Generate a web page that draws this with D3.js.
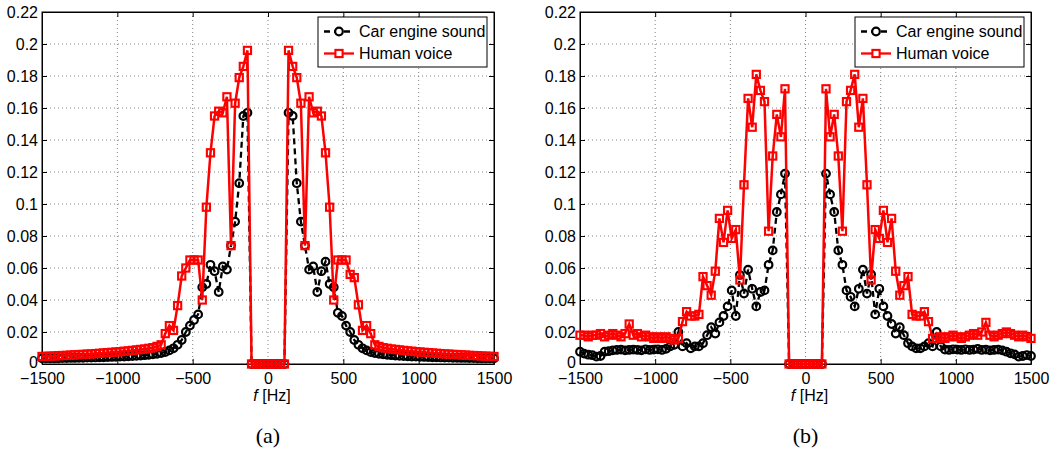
<!DOCTYPE html>
<html><head><meta charset="utf-8">
<script src="https://cdn.jsdelivr.net/npm/d3@7"></script>
<style>body{margin:0;background:#fff}svg{display:block}</style>
</head><body>
<svg id="c" width="1049" height="449"></svg>
<script>
// ---------- data ----------
const fStep = 1500 / 55;                  // frequency bin spacing (Hz)
const binIndex = d3.range(-55, 56);       // bins -55 .. 55
const xTicks = [-1500, -1000, -500, 0, 500, 1000, 1500];
const xTickLabels = ["\u22121500", "\u22121000", "\u2212500", "0", "500", "1000", "1500"];
const yTicks = [0, 0.02, 0.04, 0.06, 0.08, 0.1, 0.12, 0.14, 0.16, 0.18, 0.2, 0.22];
const yTickLabels = ["0", "0.02", "0.04", "0.06", "0.08", "0.1", "0.12", "0.14", "0.16", "0.18", "0.2", "0.22"];
const seriesNames = ["Car engine sound", "Human voice"];
const panelLabels = ["(a)", "(b)"];

// panel (a)
const carA = [
 0.0035,0.0035,0.0035,0.0036,0.0036,0.0037,0.0037,0.0038,0.0038,0.0039,0.0039,
 0.0040,0.0040,0.0041,0.0042,0.0042,0.0043,0.0044,0.0045,0.0046,0.0047,
 0.0048,0.0050,0.0051,0.0053,0.0055,0.0057,0.0060,0.0064,0.0068,0.0075,
 0.0085,0.0098,0.012,0.015,0.020,0.024,0.0275,0.031,0.048,0.050,
 0.062,0.058,0.045,0.061,0.059,0.074,0.089,0.113,0.155,0.157,
 0,0,0,0,
 0,
 0,0,0,0,
 0.157,0.155,0.113,0.089,0.074,0.059,0.061,0.045,0.058,0.064,
 0.050,0.048,0.032,0.030,0.024,0.020,0.015,0.012,0.0098,0.0085,
 0.0075,0.0068,0.0064,0.0060,0.0057,0.0055,0.0053,0.0051,0.0050,0.0048,
 0.0047,0.0046,0.0045,0.0044,0.0043,0.0042,0.0042,0.0041,0.0040,0.0040,
 0.0039,0.0039,0.0038,0.0038,0.0037,0.0037,0.0036,0.0036,0.0035,0.0035,
 0.0035];
const voiceA = [
 0.0047,0.0048,0.0049,0.0050,0.0052,0.0053,0.0054,0.0056,0.0057,0.0059,0.0060,
 0.0062,0.0063,0.0065,0.0067,0.0069,0.0071,0.0073,0.0075,0.0077,0.0080,
 0.0082,0.0085,0.0088,0.0091,0.0094,0.0098,0.0102,0.011,0.012,0.019,
 0.024,0.021,0.0365,0.055,0.060,0.065,0.065,0.065,0.040,0.098,
 0.132,0.155,0.158,0.157,0.167,0.074,0.163,0.179,0.186,0.196,
 0,0,0,0,
 0,
 0,0,0,0,
 0.196,0.186,0.179,0.163,0.074,0.167,0.157,0.158,0.155,0.132,
 0.098,0.040,0.065,0.065,0.065,0.056,0.054,0.037,0.021,0.024,
 0.019,0.012,0.011,0.0102,0.0098,0.0094,0.0091,0.0088,0.0085,0.0082,
 0.0080,0.0077,0.0075,0.0073,0.0071,0.0069,0.0067,0.0065,0.0063,0.0062,
 0.0060,0.0059,0.0057,0.0056,0.0054,0.0053,0.0052,0.0050,0.0049,0.0048,
 0.0047];

// panel (b)
const carB = [
 0.0077,0.0065,0.0058,0.0055,0.0046,0.005,0.0077,0.008,0.0085,0.0088,
 0.009,0.0085,0.0088,0.009,0.0088,0.0085,0.0092,0.0088,0.009,0.0092,
 0.0088,0.0095,0.011,0.012,0.020,
 0.011,0.013,0.0098,0.011,0.011,0.013,0.018,0.023,0.019,0.026,
 0.030,0.036,0.046,0.030,0.0556,0.044,0.059,0.047,0.036,0.045,
 0.046,0.062,0.071,0.095,0.106,0.119,0,0,0,0,
 0,
 0,0,0,0,
 0.119,0.106,0.095,0.071,0.062,0.046,0.042,0.036,0.047,0.059,
 0.044,0.056,0.031,0.047,0.036,0.030,0.025,0.019,0.023,0.018,
 0.013,0.011,0.0098,0.0098,0.011,0.013,0.011,0.020,0.011,0.009,
 0.0088,0.0092,0.009,0.0088,0.0092,0.0088,0.009,0.0095,0.0088,0.009,
 0.0085,0.0088,0.009,0.0085,0.0077,0.0067,0.006,0.0046,0.005,0.0056,
 0.005];
const voiceB = [
 0.018,0.018,0.017,0.018,0.018,0.019,0.017,0.018,0.019,0.018,
 0.017,0.019,0.025,0.018,0.019,0.017,0.018,0.017,0.016,0.017,
 0.016,0.017,0.016,0.015,0.016,
 0.0265,0.0327,0.030,0.030,0.031,0.0546,0.049,0.043,0.058,0.091,
 0.076,0.096,0.0785,0.084,0.0525,0.112,0.166,0.148,0.181,0.171,
 0.164,0.083,0.130,0.156,0.142,0.172,0,0,0,0,
 0,
 0,0,0,0,
 0.172,0.142,0.156,0.130,0.083,0.164,0.171,0.181,0.148,0.166,
 0.112,0.0525,0.084,0.0785,0.096,0.076,0.091,0.058,0.043,0.049,
 0.0546,0.031,0.030,0.030,0.0327,0.0265,0.016,0.016,0.017,0.016,
 0.017,0.018,0.017,0.016,0.017,0.018,0.019,0.018,0.020,0.026,
 0.018,0.017,0.018,0.019,0.020,0.019,0.018,0.017,0.018,0.017,
 0.016];

// ---------- drawing ----------
const svg = d3.select("#c");
svg.append("rect").attr("width", 1049).attr("height", 449).attr("fill", "#fff");
const FONT = "'Liberation Sans', Arial, Helvetica, sans-serif";
const yTop = 12, yBot = 364;
const CR = 3.8, SQ = 7.2;
const panels = [
  { x0: 42, x1: 494, car: carA, voice: voiceA, label: panelLabels[0] },
  { x0: 580, x1: 1031, car: carB, voice: voiceB, label: panelLabels[1] }
];

panels.forEach(p => {
  const x = d3.scaleLinear().domain([-1500, 1500]).range([p.x0, p.x1]);
  const y = d3.scaleLinear().domain([0, 0.22]).range([yBot, yTop]);
  const g = svg.append("g");

  // grid
  g.append("g").selectAll("line").data(xTicks.slice(1, -1)).join("line")
    .attr("x1", d => x(d)).attr("x2", d => x(d)).attr("y1", yTop).attr("y2", yBot)
    .attr("stroke", "#808080").attr("stroke-width", 1).attr("stroke-dasharray", "1,3");
  g.append("g").selectAll("line").data(yTicks.slice(1, -1)).join("line")
    .attr("x1", p.x0).attr("x2", p.x1).attr("y1", d => y(d)).attr("y2", d => y(d))
    .attr("stroke", "#808080").attr("stroke-width", 1).attr("stroke-dasharray", "1,3");

  // axes
  const ax = g.append("g").attr("transform", `translate(0,${yBot})`)
    .call(d3.axisBottom(x).tickValues(xTicks).tickFormat((d, i) => xTickLabels[i])
      .tickSizeInner(-5).tickSizeOuter(0).tickPadding(9));
  const axT = g.append("g").attr("transform", `translate(0,${yTop})`)
    .call(d3.axisTop(x).tickValues(xTicks).tickFormat("").tickSizeInner(-5).tickSizeOuter(0));
  const ay = g.append("g").attr("transform", `translate(${p.x0},0)`)
    .call(d3.axisLeft(y).tickValues(yTicks).tickFormat((d, i) => yTickLabels[i])
      .tickSizeInner(-5).tickSizeOuter(0).tickPadding(4));
  const ayR = g.append("g").attr("transform", `translate(${p.x1},0)`)
    .call(d3.axisRight(y).tickValues(yTicks).tickFormat("").tickSizeInner(-5).tickSizeOuter(0));
  [ax, axT, ay, ayR].forEach(a => {
    a.attr("font-family", FONT).attr("font-size", 16);
    a.selectAll("text").attr("fill", "#000");
    a.selectAll("line,path").attr("stroke", "#000");
  });
  // lift the "0" y label slightly so it clears the x tick labels
  ay.selectAll(".tick").filter(d => d === 0).select("text").attr("dy", "0.2em");

  // frame
  g.append("rect").attr("x", p.x0).attr("y", yTop).attr("width", p.x1 - p.x0).attr("height", yBot - yTop)
    .attr("fill", "none").attr("stroke", "#000").attr("stroke-width", 1);

  const pts = (vals) => binIndex.map((k, i) => ({ f: k * fStep, v: vals[i] }));
  const line = d3.line().x(d => x(d.f)).y(d => y(d.v));

  // car engine (black dashed, circles)
  const carPts = pts(p.car);
  g.append("path").datum(carPts).attr("d", line).attr("fill", "none")
    .attr("stroke", "#000").attr("stroke-width", 2.3).attr("stroke-dasharray", "6,4");
  g.append("g").selectAll("circle").data(carPts).join("circle")
    .attr("cx", d => x(d.f)).attr("cy", d => y(d.v)).attr("r", CR)
    .attr("fill", "none").attr("stroke", "#000").attr("stroke-width", 2.2);

  // human voice (red solid, squares)
  const voicePts = pts(p.voice);
  g.append("path").datum(voicePts).attr("d", line).attr("fill", "none")
    .attr("stroke", "#ff0000").attr("stroke-width", 2.5);
  g.append("g").selectAll("rect").data(voicePts).join("rect")
    .attr("x", d => x(d.f) - SQ / 2).attr("y", d => y(d.v) - SQ / 2).attr("width", SQ).attr("height", SQ)
    .attr("fill", "none").attr("stroke", "#ff0000").attr("stroke-width", 2.1);

  // legend
  const lx = p.x1 - 176, ly = 17;
  const lg = g.append("g").attr("transform", `translate(${lx},${ly})`);
  lg.append("rect").attr("width", 169).attr("height", 50).attr("fill", "#fff")
    .attr("stroke", "#000").attr("stroke-width", 1);
  const rows = [
    { name: seriesNames[0], color: "#000", dash: "6,4", type: "circle", yy: 14.5 },
    { name: seriesNames[1], color: "#ff0000", dash: null, type: "square", yy: 36.5 }
  ];
  rows.forEach(r => {
    lg.append("line").attr("x1", 6).attr("x2", 36).attr("y1", r.yy).attr("y2", r.yy)
      .attr("stroke", r.color).attr("stroke-width", 2.3).attr("stroke-dasharray", r.dash);
    if (r.type === "circle") {
      lg.append("circle").attr("cx", 21).attr("cy", r.yy).attr("r", CR)
        .attr("fill", "#fff").attr("stroke", r.color).attr("stroke-width", 2.2);
    } else {
      lg.append("rect").attr("x", 21 - SQ / 2).attr("y", r.yy - SQ / 2).attr("width", SQ).attr("height", SQ)
        .attr("fill", "#fff").attr("stroke", r.color).attr("stroke-width", 2.1);
    }
    lg.append("text").attr("x", 41).attr("y", r.yy).attr("dy", "0.35em")
      .attr("font-family", FONT).attr("font-size", 16).attr("fill", "#000").text(r.name);
  });

  // axis label
  const xl = g.append("text").attr("x", x(0) + 4).attr("y", 401).attr("text-anchor", "middle")
    .attr("font-family", FONT).attr("font-size", 16).attr("fill", "#000");
  xl.append("tspan").attr("font-style", "italic").text("f");
  xl.append("tspan").text(" [Hz]");

  // panel caption
  g.append("text").attr("x", x(0)).attr("y", 443).attr("text-anchor", "middle")
    .attr("font-family", "'Liberation Serif', 'Times New Roman', serif").attr("font-size", 22)
    .attr("fill", "#000").text(p.label);
});
</script>
</body></html>
